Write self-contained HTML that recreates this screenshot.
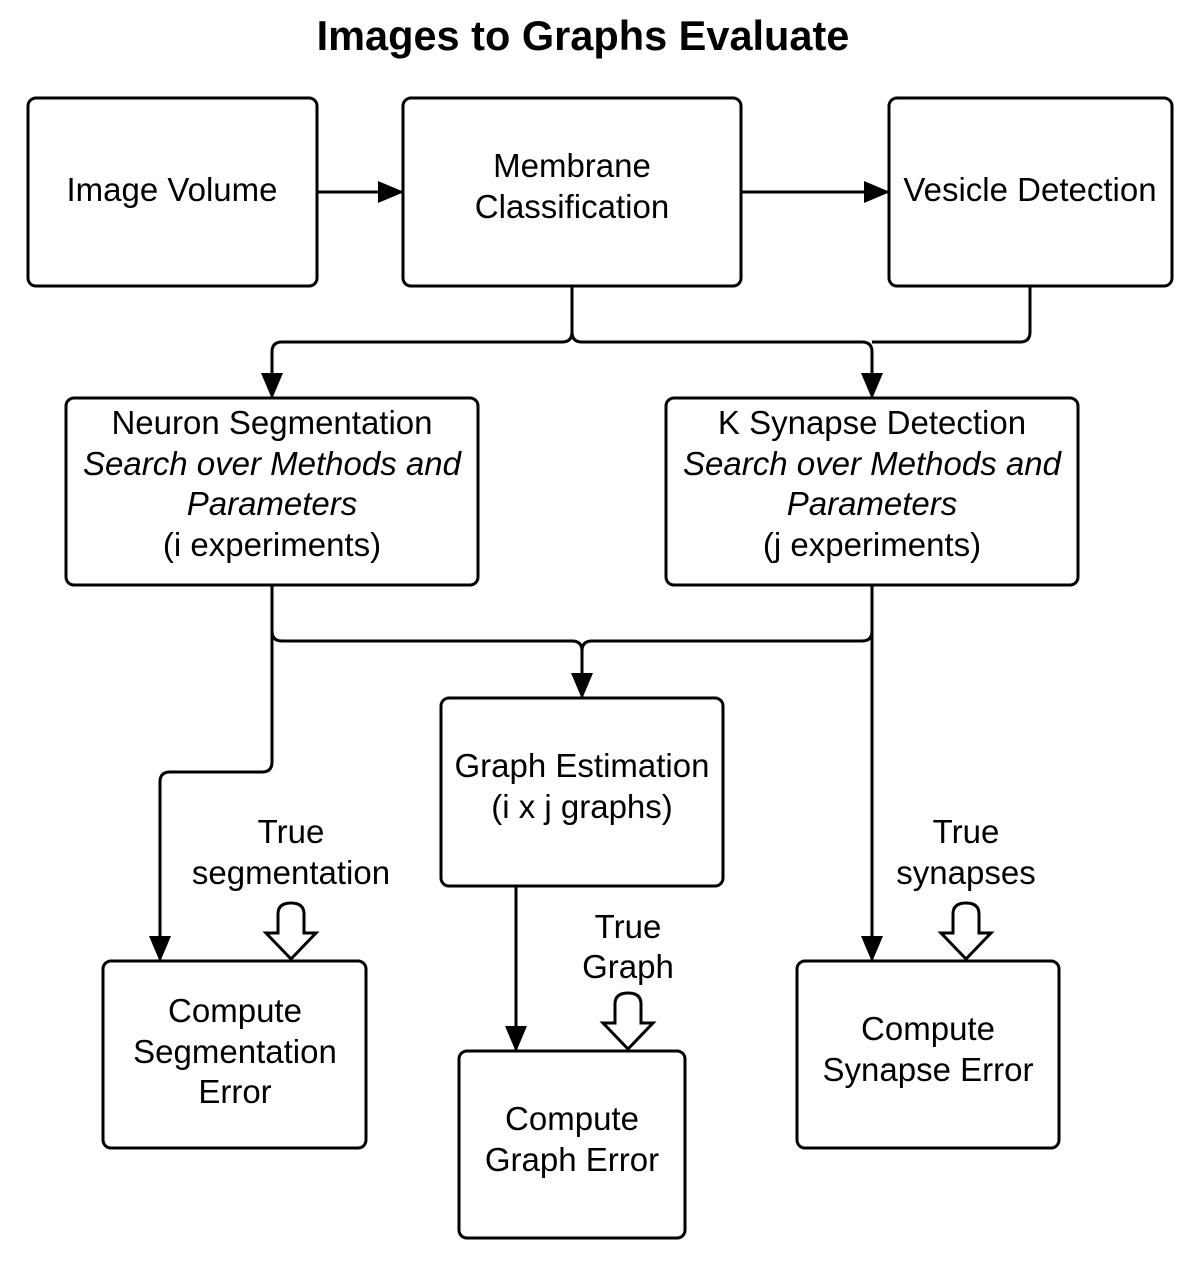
<!DOCTYPE html>
<html><head><style>body{margin:0;background:#fff}svg text{font-family:"Liberation Sans",sans-serif;font-size:33px;fill:#000}</style></head>
<body>
<svg width="1196" height="1267" viewBox="0 0 1196 1267" xmlns="http://www.w3.org/2000/svg">
<defs>
<marker id="b" markerWidth="26" markerHeight="22" refX="25" refY="11" orient="auto" markerUnits="userSpaceOnUse"><path d="M0,0L26,11L0,22z" fill="#000"/></marker></defs>
<text x="583" y="50" text-anchor="middle" style="font-size:41.5px;font-weight:bold">Images to Graphs Evaluate</text>
<g fill="none" stroke="#000" stroke-width="3">
<rect x="28" y="98" width="289" height="188" rx="8"/>
<rect x="403" y="98" width="338" height="188" rx="8"/>
<rect x="889" y="98" width="283" height="188" rx="8"/>
<rect x="66" y="398" width="412" height="187" rx="8"/>
<rect x="666" y="398" width="412" height="187" rx="8"/>
<rect x="441" y="698" width="282" height="188" rx="8"/>
<rect x="103" y="961" width="263" height="187" rx="8"/>
<rect x="459" y="1051" width="226" height="187" rx="8"/>
<rect x="797" y="961" width="262" height="187" rx="8"/>
<path d="M317,192H403" marker-end="url(#b)"/>
<path d="M741,192H889" marker-end="url(#b)"/>
<path d="M572,286V332Q572,342 562,342H282Q272,342 272,352V398" marker-end="url(#b)"/>
<path d="M572,332Q572,342 582,342H862Q872,342 872,352V398" marker-end="url(#b)"/>
<path d="M1030,286V332Q1030,342 1020,342H872"/>
<path d="M272,585V631Q272,641 282,641H572Q582,641 582,651V698" marker-end="url(#b)"/>
<path d="M872,585V631Q872,641 862,641H592Q582,641 582,651"/>
<path d="M272,585V762Q272,772 262,772H170Q160,772 160,782V961" marker-end="url(#b)"/>
<path d="M872,585V961" marker-end="url(#b)"/>
<path d="M516,886V1051" marker-end="url(#b)"/>
<path d="M278,933V914Q278,903 291,903Q304,903 304,914V933H316L291,959L266,933Z"/>
<path d="M615,1023V1004Q615,993 628,993Q641,993 641,1004V1023H653L628,1049L603,1023Z"/>
<path d="M953,933V914Q953,903 966,903Q979,903 979,914V933H991L966,959L941,933Z"/>
</g>
<g text-anchor="middle">
<text x="172" y="201">Image Volume</text>
<text x="572" y="177">Membrane</text><text x="572" y="218">Classification</text>
<text x="1030" y="201">Vesicle Detection</text>
<text x="272" y="434">Neuron Segmentation</text>
<text x="272" y="475" font-style="italic">Search over Methods and</text>
<text x="272" y="515" font-style="italic">Parameters</text>
<text x="272" y="556">(i experiments)</text>
<text x="872" y="434">K Synapse Detection</text>
<text x="872" y="475" font-style="italic">Search over Methods and</text>
<text x="872" y="515" font-style="italic">Parameters</text>
<text x="872" y="556">(j experiments)</text>
<text x="582" y="777">Graph Estimation</text><text x="582" y="818">(i x j graphs)</text>
<text x="291" y="843">True</text><text x="291" y="884">segmentation</text>
<text x="628" y="938">True</text><text x="628" y="978">Graph</text>
<text x="966" y="843">True</text><text x="966" y="884">synapses</text>
<text x="235" y="1022">Compute</text><text x="235" y="1063">Segmentation</text><text x="235" y="1103">Error</text>
<text x="572" y="1130">Compute</text><text x="572" y="1171">Graph Error</text>
<text x="928" y="1040">Compute</text><text x="928" y="1081">Synapse Error</text>
</g>
</svg>
</body></html>
